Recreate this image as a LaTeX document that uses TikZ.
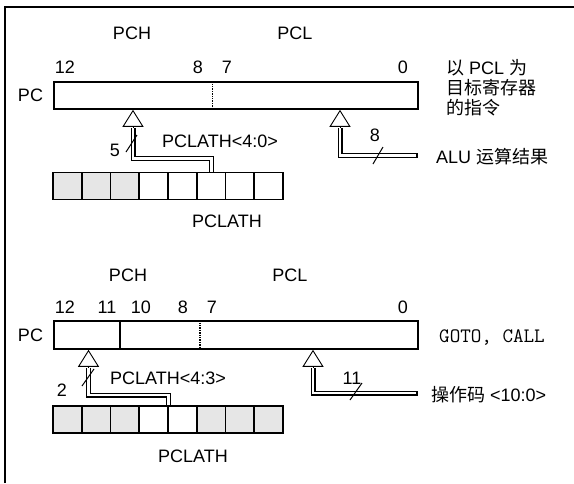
\documentclass[tikz,border=0pt]{standalone}
\usepackage{fontspec}
\setmainfont{Liberation Sans}
\newfontfamily\cjk{Noto Sans CJK SC}
\usetikzlibrary{arrows.meta, positioning, calc}
\definecolor{CellGray}{HTML}{E6E6E6}
\newcommand{\zh}[1]{{\cjk #1}}

\begin{document}
\begin{tikzpicture}[
    x=1pt, y=-1pt,
    reg/.style = {rectangle, draw, line width=1.6pt, minimum width=364pt, inner sep=0pt},
    cell/.style = {rectangle, draw, line width=1.6pt, minimum width=28.75pt, minimum height=27pt, inner sep=0pt},
    lbl/.style = {font=\fontsize{18}{20}\selectfont, inner sep=0pt},
    bus/.style = {draw, line width=1.1pt, double distance=2.8pt},
    tip/.style = {-{Triangle[open, length=17pt, width=21pt]}, line width=0.9pt},
    slash/.style = {line width=1pt},
    divider/.style = {line width=1.4pt, densely dotted},
    frame/.style = {line width=1.8pt}
]
\useasboundingbox (0,0) rectangle (574,483);
\draw[frame] (5,483) -- (5,7) -- (574,7);

% --- PCL as destination ---
\node[reg, minimum height=27pt] (pcA) at (236,95.5) {};
\draw[divider] ([xshift=159pt]pcA.north west) -- ([xshift=159pt]pcA.south west);
\node[lbl, left=10pt of pcA] (pcLabelA) {PC};
\node[lbl] (pchA) at (132,33) {PCH};
\node[lbl] (pclA) at (295,33) {PCL};
\node[lbl] (bA12) at (65,67) {12};
\node[lbl] (bA8) at (198,67) {8};
\node[lbl] (bA7) at (227,67) {7};
\node[lbl] (bA0) at (403,67) {0};
\node[lbl, align=left, anchor=west] (noteA) at (446,88) {\zh{以} PCL \zh{为}\\\zh{目标寄存器}\\\zh{的指令}};

\foreach \i/\f in {0/CellGray,1/CellGray,2/CellGray,3/white,4/white,5/white,6/white,7/white}
    \node[cell, fill=\f] (la\i) at (53+28.75*\i+14.375,186) {};
\node[lbl] (latchA) at (227,221) {PCLATH};

\coordinate (baseA1) at (133,128);
\coordinate (bendA) at (133,158.5);
\draw[bus] (la5.north) |- (bendA) -- (baseA1);
\draw[tip] (baseA1) -- (baseA1 |- pcA.south);
\draw[slash] (126,152) -- (137,135);
\node[lbl] (widthA1) at (115,150) {5};
\node[lbl] (fieldA) at (220,141) {PCLATH<4:0>};

\coordinate (baseA2) at (340,128);
\coordinate (aluIn) at (417,155.5);
\draw[bus] (aluIn) -| (baseA2);
\draw[line width=1.1pt] ([yshift=-2.5pt]aluIn) -- ([yshift=2.5pt]aluIn);
\draw[tip] (baseA2) -- (baseA2 |- pcA.south);
\draw[slash] (373,164) -- (383,147);
\node[lbl] (widthA2) at (375,135) {8};
\node[lbl, anchor=west] (aluA) at (436,157) {ALU \zh{运算结果}};

% --- GOTO, CALL ---
\node[reg, minimum height=28pt] (pcB) at (236,335) {};
\draw[line width=1.6pt] ([xshift=66.8pt]pcB.north west) -- ([xshift=66.8pt]pcB.south west);
\draw[divider] ([xshift=146.8pt]pcB.north west) -- ([xshift=146.8pt]pcB.south west);
\node[lbl, left=10pt of pcB] (pcLabelB) {PC};
\node[lbl] (pchB) at (128,275) {PCH};
\node[lbl] (pclB) at (290,275) {PCL};
\node[lbl] (bB12) at (65,307) {12};
\node[lbl] (bB11) at (107,307) {11};
\node[lbl] (bB10) at (141,307) {10};
\node[lbl] (bB8) at (183,307) {8};
\node[lbl] (bB7) at (212,307) {7};
\node[lbl] (bB0) at (403,307) {0};
\node[anchor=west, inner sep=0pt, font=\fontsize{20.5}{22}\selectfont\ttfamily] (noteB) at (439,338) {GOTO, CALL};

\foreach \i/\f in {0/CellGray,1/CellGray,2/CellGray,3/white,4/white,5/CellGray,6/CellGray,7/CellGray}
    \node[cell, fill=\f] (lb\i) at (53+28.75*\i+14.375,419.5) {};
\node[lbl] (latchB) at (193,456) {PCLATH};

\coordinate (baseB1) at (88.5,368);
\coordinate (bendB) at (88.5,395);
\draw[bus] (lb3.north east) |- (bendB) -- (baseB1);
\draw[tip] (baseB1) -- (baseB1 |- pcB.south);
\draw[slash] (82,386) -- (94,369);
\node[lbl] (widthB1) at (62,390) {2};
\node[lbl] (fieldB) at (168,378) {PCLATH<4:3>};

\coordinate (baseB2) at (313,368);
\coordinate (opIn) at (417,393);
\draw[bus] (opIn) -| (baseB2);
\draw[line width=1.1pt] ([yshift=-2.5pt]opIn) -- ([yshift=2.5pt]opIn);
\draw[tip] (baseB2) -- (baseB2 |- pcB.south);
\draw[slash] (350,400) -- (362,383);
\node[lbl] (widthB2) at (352,378) {11};
\node[lbl, anchor=west] (opB) at (431,395) {\zh{操作码} <10:0>};
\end{tikzpicture}
\end{document}
